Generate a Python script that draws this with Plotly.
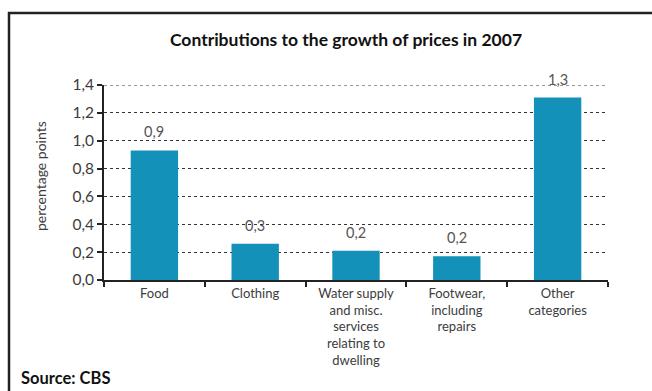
import plotly.graph_objects as go

# Contributions to CPI growth, 2007 (percentage points)
categories = [
    "Food",
    "Clothing",
    "Water supply<br>and misc.<br>services<br>relating to<br>dwelling",
    "Footwear,<br>including<br>repairs",
    "Other<br>categories",
]
values = [0.93, 0.26, 0.21, 0.17, 1.31]
y_ticks = [0.0, 0.2, 0.4, 0.6, 0.8, 1.0, 1.2, 1.4]

BAR = "#1391b9"
INK = "#222222"
TXT = "#3c3c3c"
FONT = "Lato, Open Sans, sans-serif"

fig = go.Figure()

# gridline at the top of the scale (the axis drops the one on its edge)
fig.add_shape(
    type="line", xref="paper", yref="y", layer="below",
    x0=0, x1=1, y0=y_ticks[-1], y1=y_ticks[-1],
    line=dict(color="#333333", width=1, dash="dot"),
)

fig.add_trace(go.Bar(
    x=categories,
    y=values,
    marker=dict(color=BAR, line=dict(width=0)),
    width=0.47,
    hoverinfo="skip",
))

# value labels above each bar, one decimal with comma separator
for c, v in zip(categories, values):
    fig.add_annotation(
        x=c, y=v, xref="x", yref="y",
        text=f"{v:.1f}".replace(".", ","),
        showarrow=False, yanchor="bottom", yshift=8,
        font=dict(family=FONT, size=14.5, color="#555555"),
    )

# axis label
fig.add_annotation(
    xref="paper", yref="paper",
    x=(40 - 104) / 504, y=(280 - 176) / 195,
    xanchor="center", yanchor="middle",
    text="percentage points", textangle=-90, showarrow=False,
    font=dict(family=FONT, size=14, color=TXT),
)

# source note
fig.add_annotation(
    xref="paper", yref="paper",
    x=(19 - 104) / 504, y=(280 - 378) / 195,
    xanchor="left", yanchor="middle",
    text="<b>Source: CBS</b>", showarrow=False,
    font=dict(family=FONT, size=16.5, color="#111111"),
)

# frame around the chart (left and top edges)
fig.add_shape(
    type="path", xref="paper", yref="paper",
    path=f"M {(9 - 104) / 504} {(280 - 400) / 195} "
         f"L {(9 - 104) / 504} {(280 - 13) / 195} "
         f"L {(660 - 104) / 504} {(280 - 13) / 195}",
    line=dict(color=INK, width=2.5),
)

fig.update_layout(
    width=652, height=391,
    margin=dict(l=104, r=44, t=85, b=111),
    paper_bgcolor="white", plot_bgcolor="white",
    separators=",.",
    showlegend=False,
    bargap=0.53,
    title=dict(
        text="<b>Contributions to the growth of prices in 2007</b>",
        xref="container", yref="container",
        x=346 / 652, y=1 - 40 / 391, xanchor="center", yanchor="middle",
        font=dict(family=FONT, size=17.5, color="#111111"),
    ),
    font=dict(family=FONT, size=13, color=TXT),
)

fig.update_xaxes(
    showline=True, linecolor=INK, linewidth=2,
    ticks="outside", tickson="boundaries", ticklen=5, tickcolor=INK, tickwidth=1.5,
    tickfont=dict(family=FONT, size=13, color=TXT),
    showgrid=False, fixedrange=True,
)

fig.update_yaxes(
    range=[0, 1.4],
    tickvals=y_ticks, tickformat=".1f",
    showline=True, linecolor=INK, linewidth=2,
    ticks="outside", ticklen=5, tickcolor=INK, tickwidth=1.5,
    tickfont=dict(family=FONT, size=15.5, color=TXT),
    showgrid=True, gridcolor="#333333", gridwidth=1, griddash="dot",
    zeroline=False, fixedrange=True,
)

fig.write_html("out.html")
